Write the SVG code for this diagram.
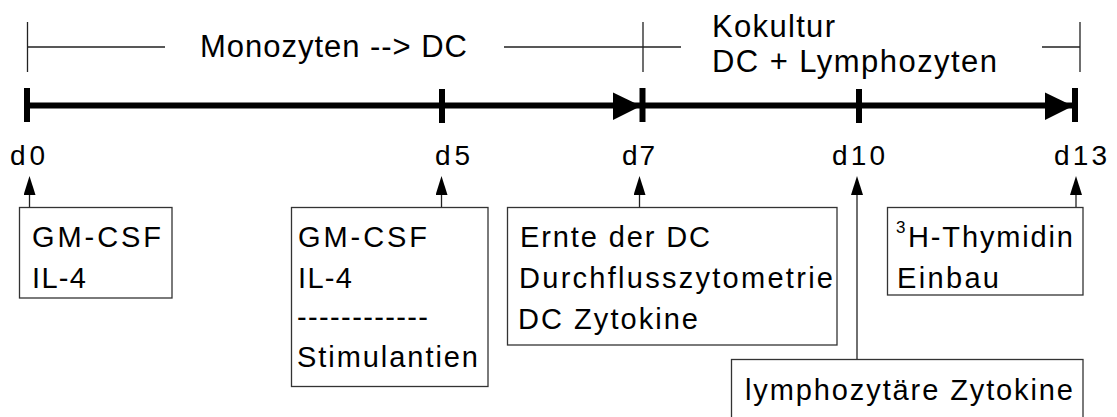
<svg xmlns="http://www.w3.org/2000/svg" width="1117" height="417" viewBox="0 0 1117 417">
<style>
text{font-family:"Liberation Sans",Arial,sans-serif;fill:#000}
.top{font-size:31px}
.day{font-size:28px}
.box{font-size:29px}
.thin{stroke:#222;stroke-width:1.3;fill:none}
.bx{stroke:#333;stroke-width:1.3;fill:#fff}
.axis{stroke:#000;stroke-width:6;fill:none}
.tick{stroke:#000;stroke-width:6}
</style>
<defs>
<marker id="up" markerUnits="userSpaceOnUse" markerWidth="19" markerHeight="12" refX="0" refY="6" orient="auto">
<path d="M0,0 L19,6 L0,12 z" fill="#000"/>
</marker>
</defs>
<rect width="1117" height="417" fill="#fff"/>
<g id="phases">
<path class="thin" d="M27.5,22 V72 M28,47 H165 M504,47 H681 M643,22 V72 M1042,47 H1080 M1080,22 V72"/>
<text class="top" x="200" y="57" textLength="267" lengthAdjust="spacing">Monozyten --&gt; DC</text>
<text class="top" x="712" y="37" textLength="123" lengthAdjust="spacing">Kokultur</text>
<text class="top" x="712" y="72" textLength="285" lengthAdjust="spacing">DC + Lymphozyten</text>
</g>
<g id="timeline">
<line class="axis" x1="27" y1="105.5" x2="1072" y2="105.5"/>
<line class="tick" x1="27" y1="88" x2="27" y2="122"/>
<line class="tick" x1="442" y1="89" x2="442" y2="123"/>
<line class="tick" x1="642.5" y1="88" x2="642.5" y2="122"/>
<line class="tick" x1="859" y1="89" x2="859" y2="123"/>
<line class="tick" x1="1075" y1="88" x2="1075" y2="122"/>
<polygon points="613,92.5 613,120 641,106" fill="#000"/>
<polygon points="1045,92.5 1045,120 1073,106" fill="#000"/>
</g>
<g id="days">
<text class="day" x="10" y="165" textLength="35" lengthAdjust="spacing">d0</text>
<text class="day" x="435" y="165" textLength="35" lengthAdjust="spacing">d5</text>
<text class="day" x="622" y="165" textLength="33" lengthAdjust="spacing">d7</text>
<text class="day" x="832" y="165" textLength="53" lengthAdjust="spacing">d10</text>
<text class="day" x="1054" y="165" textLength="53" lengthAdjust="spacing">d13</text>
</g>
<g id="connectors">
<line class="thin" x1="29.5" y1="207" x2="29.5" y2="195" marker-end="url(#up)"/>
<line class="thin" x1="441.5" y1="207" x2="441.5" y2="195" marker-end="url(#up)"/>
<line class="thin" x1="639.5" y1="207" x2="639.5" y2="195" marker-end="url(#up)"/>
<line class="thin" x1="857" y1="359" x2="857" y2="195" marker-end="url(#up)"/>
<line class="thin" x1="1076" y1="207" x2="1076" y2="195" marker-end="url(#up)"/>
</g>
<g id="box-d0">
<rect class="bx" x="19.5" y="207.5" width="152.5" height="90.5"/>
<text class="box" x="32" y="247" textLength="129" lengthAdjust="spacing">GM-CSF</text>
<text class="box" x="32" y="288" textLength="54" lengthAdjust="spacing">IL-4</text>
</g>
<g id="box-d5">
<rect class="bx" x="291.5" y="207.5" width="196.5" height="179"/>
<text class="box" x="298" y="247" textLength="129" lengthAdjust="spacing">GM-CSF</text>
<text class="box" x="298" y="288" textLength="54" lengthAdjust="spacing">IL-4</text>
<text class="box" x="297" y="327" textLength="131" lengthAdjust="spacing">------------</text>
<text class="box" x="297" y="367" textLength="181" lengthAdjust="spacing">Stimulantien</text>
</g>
<g id="box-d7">
<rect class="bx" x="507.5" y="207.5" width="329.5" height="137.5"/>
<text class="box" x="520" y="247" textLength="190" lengthAdjust="spacing">Ernte der DC</text>
<text class="box" x="519" y="288" textLength="314" lengthAdjust="spacing">Durchflusszytometrie</text>
<text class="box" x="518" y="329" textLength="180" lengthAdjust="spacing">DC Zytokine</text>
</g>
<g id="box-d13">
<rect class="bx" x="887.5" y="207.5" width="195.5" height="87.5"/>
<text x="896" y="233" font-size="17">3</text>
<text class="box" x="908" y="247" textLength="165" lengthAdjust="spacing">H-Thymidin</text>
<text class="box" x="897" y="288" textLength="102" lengthAdjust="spacing">Einbau</text>
</g>
<g id="box-d10">
<rect class="bx" x="731.5" y="359.5" width="351.5" height="70"/>
<text class="box" x="745" y="400" textLength="328" lengthAdjust="spacing">lymphozytäre Zytokine</text>
</g>
</svg>
